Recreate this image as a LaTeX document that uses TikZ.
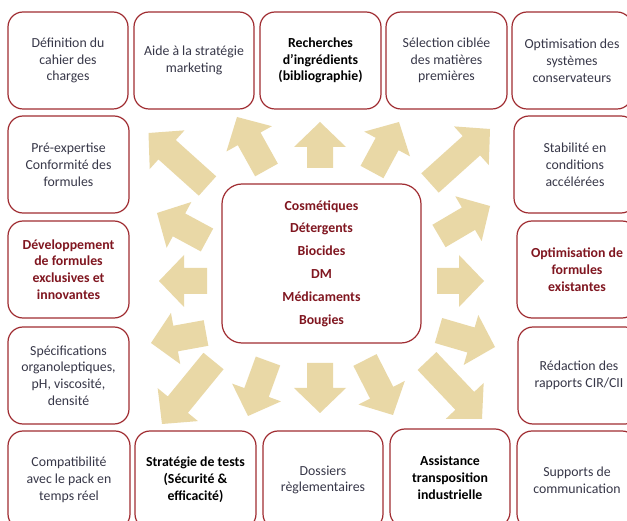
\documentclass[tikz,border=0pt]{standalone}
\usepackage{fontspec}
\setmainfont{Carlito}
\usetikzlibrary{calc}
\definecolor{boxred}{RGB}{160,45,50}
\definecolor{txtgrey}{RGB}{55,55,72}
\definecolor{txtred}{RGB}{128,22,32}
\definecolor{arrowfill}{RGB}{233,216,166}
\newcommand\blockarr[2]{%
  \coordinate (hb) at ($(#2)!25pt!(#1)$);
  \fill[arrowfill] ($(#1)!13pt!90:(#2)$) -- ($(hb)!13pt!90:(#2)$) -- ($(hb)!26pt!90:(#2)$) -- (#2)
     -- ($(hb)!26pt!-90:(#2)$) -- ($(hb)!13pt!-90:(#2)$) -- ($(#1)!13pt!-90:(#2)$) -- cycle;}
\tikzset{
  box/.style={draw=boxred, line width=1.2pt, rounded corners=15pt, minimum width=120pt,
    minimum height=97pt, align=center, text=txtgrey, inner sep=1pt,
    font=\fontsize{13.8}{16.8}\selectfont},
  redb/.style={text=txtred, font=\bfseries\fontsize{13.8}{16.8}\selectfont},
  blkb/.style={text=black, font=\bfseries\fontsize{13.8}{16.8}\selectfont},
}
\begin{document}
\begin{tikzpicture}[x=1pt,y=-1pt]
\useasboundingbox (0,0) rectangle (627,521);
\clip (0,0) rectangle (627,521);
\fill[white] (0,0) rectangle (627,521);
% arrows
\blockarr{207.5,186}{148.5,133}
\blockarr{266.5,170}{237,117}
\blockarr{320,168}{320,122}
\blockarr{372,172}{399,122}
\blockarr{430,183}{490,129}
\blockarr{207,240}{157,213}
\blockarr{207,281}{159,281}
\blockarr{206,333}{151,343}
\blockarr{439,236}{490,206}
\blockarr{437,281}{484,281}
\blockarr{438.5,330.5}{495,347}
\blockarr{213.5,361}{162,424}
\blockarr{268,361}{248,416}
\blockarr{320,363}{320,413}
\blockarr{365,360}{393,415}
\blockarr{427,361}{482,419}
% center
\node[draw=boxred, line width=1.2pt, rounded corners=20pt, minimum width=199pt,
  minimum height=159pt, align=center, text=txtred,
  font=\bfseries\fontsize{13.8}{22.8}\selectfont] (centre) at (321.5,263.5)
  {Cosmétiques\\Détergents\\Biocides\\DM\\Médicaments\\Bougies};
% top row
\node[box] (t1) at (68,60.5) {Définition du\\cahier des\\charges};
\node[box] (t2) at (194,60.5) {Aide à la stratégie\\marketing};
\node[box, blkb, minimum width=121pt] (t3) at (320.5,60.5) {Recherches\\d’ingrédients\\(bibliographie)};
\node[box, minimum width=121pt] (t4) at (446.5,60.5) {Sélection ciblée\\des matières\\premières};
\node[box] (t5) at (572,60.5) {Optimisation des\\systèmes\\conservateurs};
% left column
\node[box, minimum width=121pt] (l1) at (68.5,164.5) {Pré-expertise\\Conformité des\\formules};
\node[box, redb, minimum width=121pt] (l2) at (68.5,269.5) {Développement\\de formules\\exclusives et\\innovantes};
\node[box, minimum width=121pt] (l3) at (68.5,375.5) {Spécifications\\organoleptiques,\\pH, viscosité,\\densité};
% right column
\node[box, minimum width=122pt] (r1) at (575,164.5) {Stabilité en\\conditions\\accélérées};
\node[box, redb] (r2) at (577,269.5) {Optimisation de\\formules\\existantes};
\node[box, minimum width=122pt] (r3) at (579,375.5) {Rédaction des\\rapports CIR/CII};
% bottom row
\node[box, minimum width=122pt, minimum height=98pt] (b1) at (69,480) {Compatibilité\\avec le pack en\\temps réel};
\node[box, blkb, minimum width=121pt, minimum height=98pt] (b2) at (195.5,480) {Stratégie de tests\\(Sécurité \&\\efficacité)};
\node[box, minimum height=98pt] (b3) at (323,480) {Dossiers\\règlementaires};
\node[box, blkb, minimum height=98pt] (b4) at (450,478) {Assistance\\transposition\\industrielle};
\node[box, minimum height=98pt] (b5) at (577,480) {Supports de\\communication};
\end{tikzpicture}
\end{document}
